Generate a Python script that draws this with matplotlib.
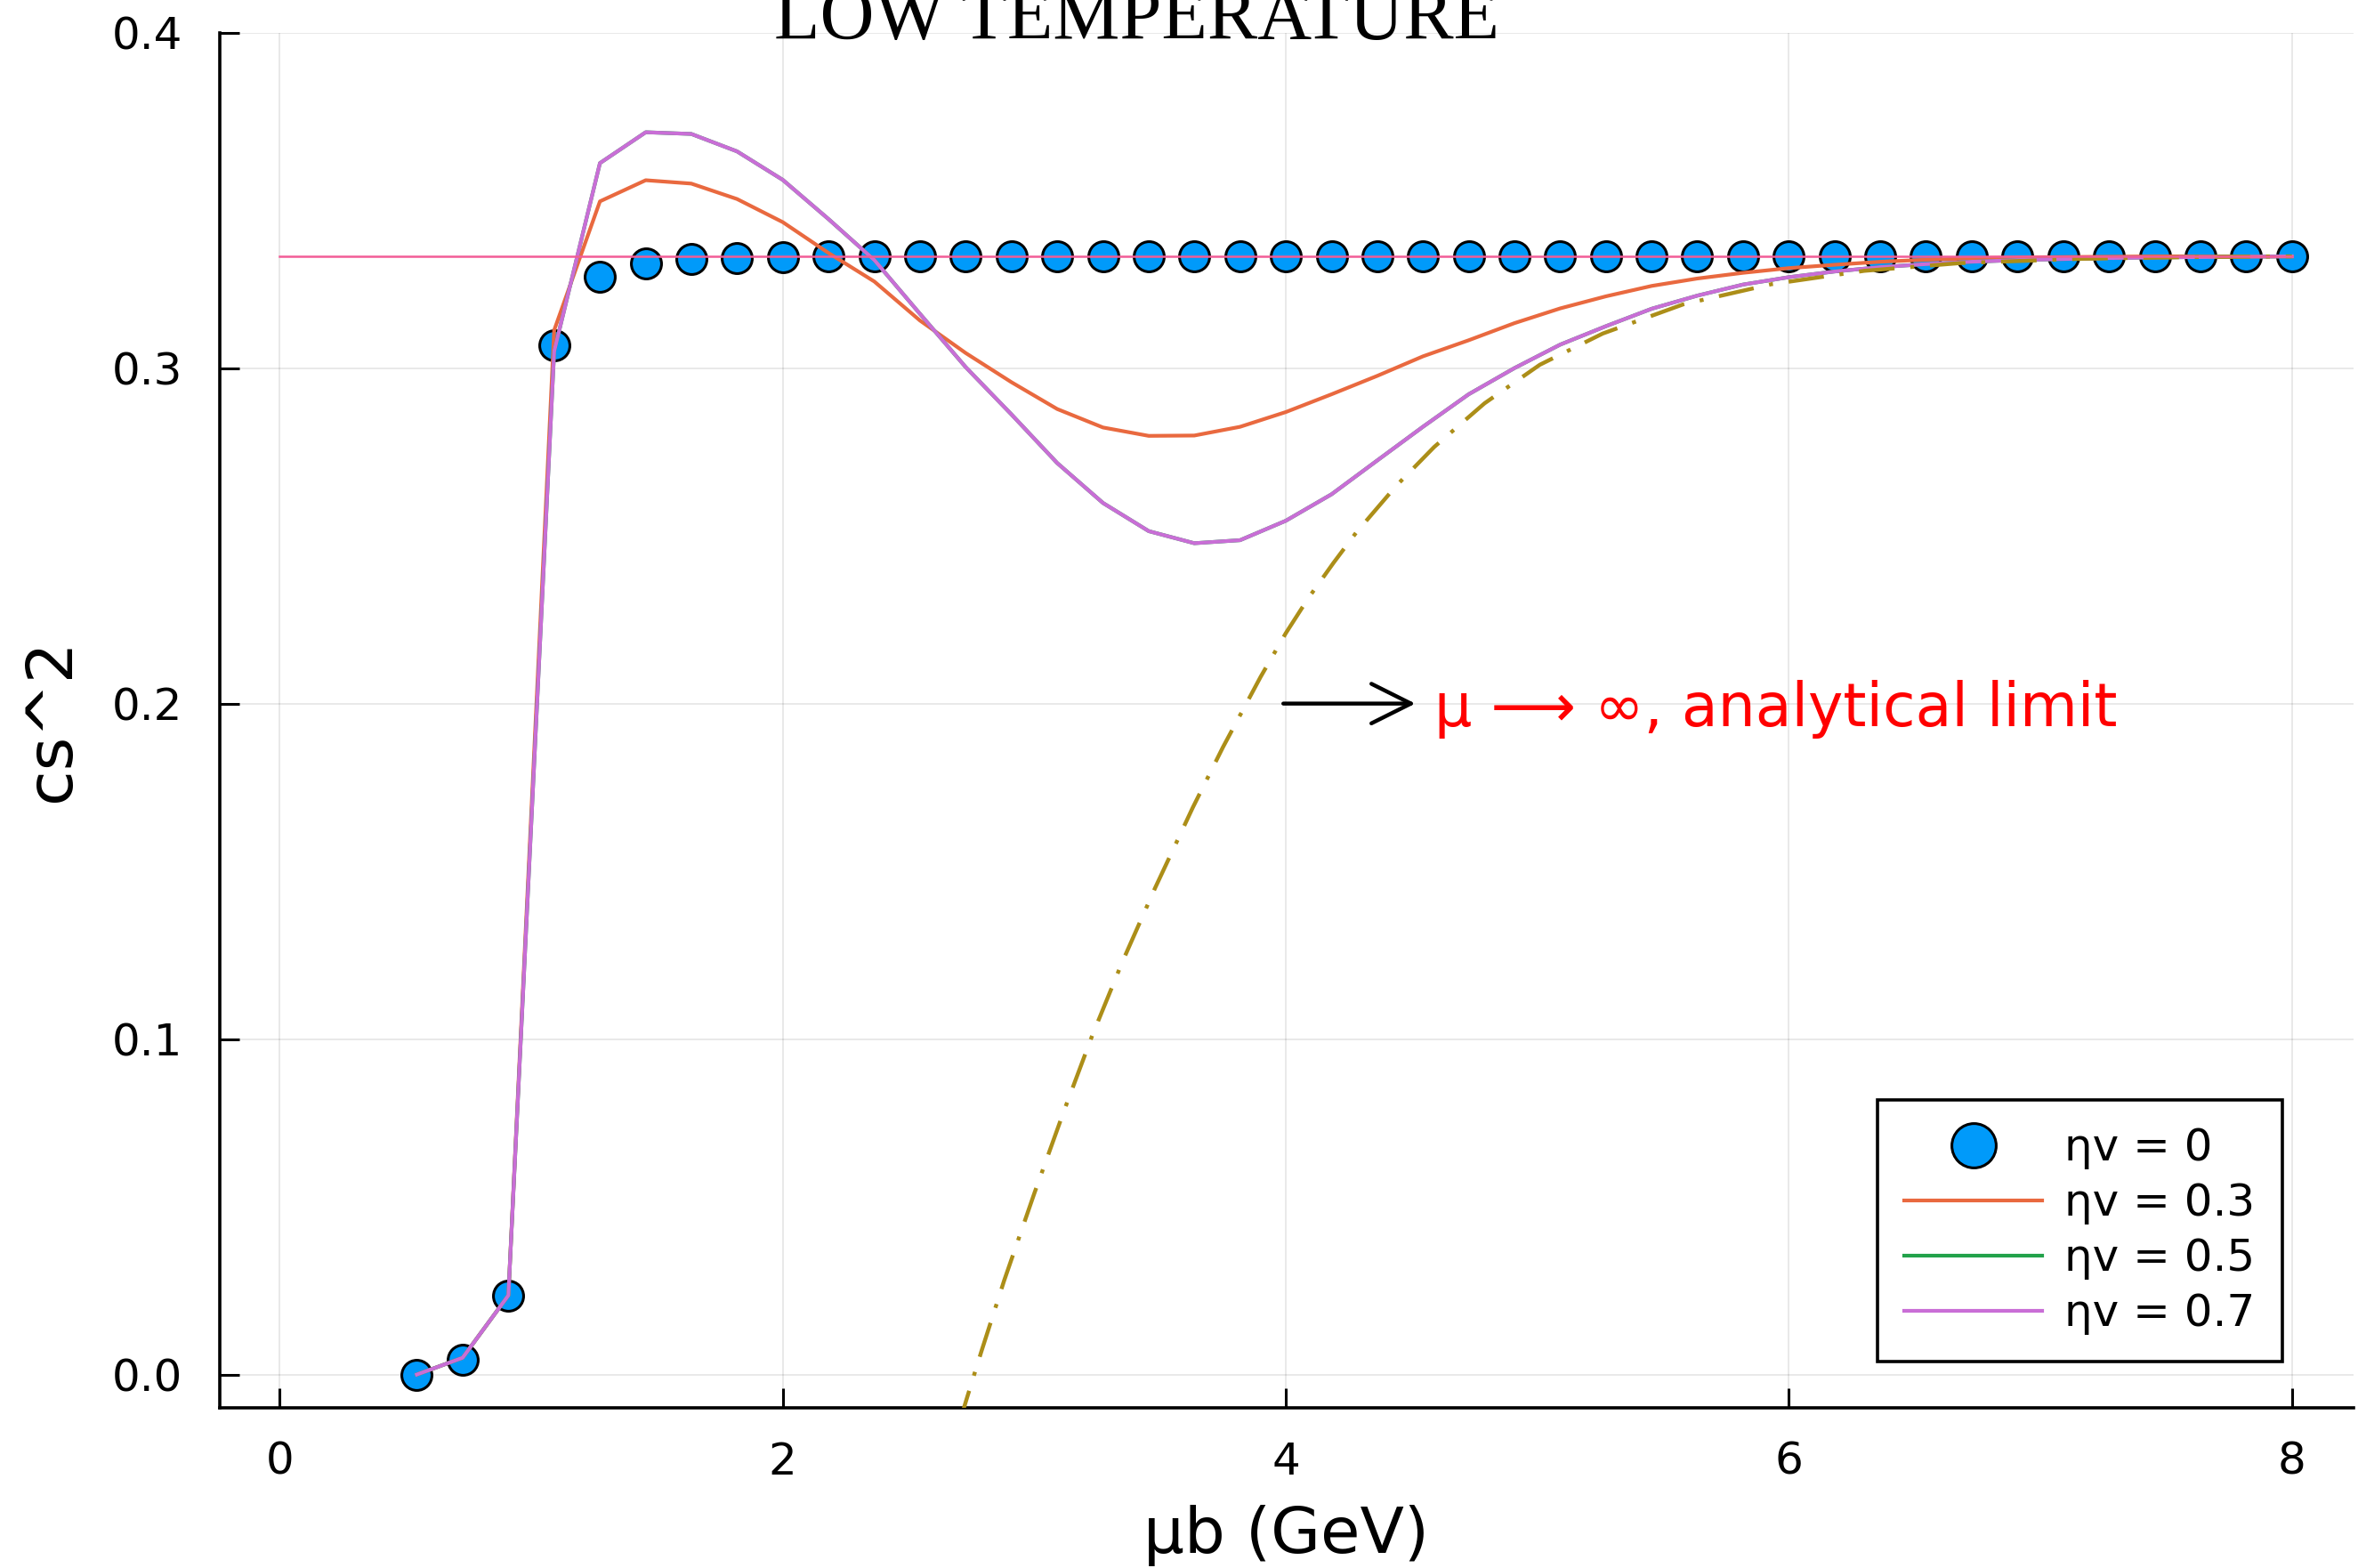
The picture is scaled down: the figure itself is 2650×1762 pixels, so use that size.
import matplotlib
matplotlib.use("Agg")
import matplotlib.pyplot as plt

# baryon chemical potential grid (GeV)
mu = [0.545, 0.727, 0.909, 1.091, 1.273, 1.455, 1.636, 1.818, 2.0, 2.182,
      2.364, 2.545, 2.727, 2.909, 3.091, 3.273, 3.455, 3.636, 3.818, 4.0,
      4.182, 4.364, 4.545, 4.727, 4.909, 5.091, 5.273, 5.455, 5.636, 5.818,
      6.0, 6.182, 6.364, 6.545, 6.727, 6.909, 7.091, 7.273, 7.455, 7.636,
      7.818, 8.0]

# speed of sound squared for each viscosity value
cs2_eta0 = [0.0, 0.0045, 0.0236, 0.3067, 0.3273, 0.3313, 0.3324, 0.3329, 0.3331, 0.3333,
            0.3333, 0.3333, 0.3333, 0.3333, 0.3333, 0.3333, 0.3333, 0.3333, 0.3333, 0.3333,
            0.3333, 0.3333, 0.3333, 0.3333, 0.3333, 0.3333, 0.3333, 0.3333, 0.3333, 0.3333,
            0.3333, 0.3333, 0.3333, 0.3333, 0.3333, 0.3333, 0.3333, 0.3333, 0.3333, 0.3333,
            0.3333, 0.3333]
cs2_eta03 = [0.0, 0.005, 0.0236, 0.3113, 0.3497, 0.3560, 0.3550, 0.3504, 0.3435, 0.3343,
             0.3258, 0.3142, 0.3045, 0.2958, 0.2878, 0.2823, 0.2798, 0.2799, 0.2825, 0.2869,
             0.2922, 0.2977, 0.3035, 0.3083, 0.3134, 0.3178, 0.3214, 0.3245, 0.3267, 0.3284,
             0.3298, 0.3308, 0.3317, 0.3323, 0.3327, 0.3330, 0.3331, 0.3332, 0.3333, 0.3333,
             0.3333, 0.3333]
cs2_eta07 = [0.0, 0.005, 0.0236, 0.305, 0.3611, 0.3703, 0.3698, 0.3646, 0.3561, 0.3444,
             0.3322, 0.3162, 0.3003, 0.2862, 0.2717, 0.2598, 0.2514, 0.2478, 0.2487, 0.2545,
             0.2624, 0.2725, 0.2825, 0.2922, 0.3000, 0.3070, 0.3125, 0.3177, 0.3216, 0.3249,
             0.3271, 0.3288, 0.3301, 0.3310, 0.3317, 0.3322, 0.3325, 0.3328, 0.3330, 0.3331,
             0.3332, 0.3333]
# the 0.5 curve sits exactly under the 0.7 one in the original
cs2_eta05 = list(cs2_eta07)

# mu -> infinity analytical limit
mu_lim = [2.70, 2.73, 2.79, 2.88, 3.00, 3.12, 3.23, 3.35, 3.48, 3.63, 3.75, 3.90, 4.00,
          4.09, 4.19, 4.28, 4.44, 4.59, 4.79, 5.01, 5.26, 5.58, 5.93, 6.30, 6.68, 7.17,
          7.60, 8.00]
cs2_lim = [-0.015, -0.0075, 0.0070, 0.0280, 0.0540, 0.0790, 0.1010, 0.1230, 0.1450,
           0.1690, 0.1870, 0.2080, 0.2210, 0.2315, 0.2420, 0.2510, 0.2650, 0.2765, 0.2895,
           0.3010, 0.3103, 0.3190, 0.3250, 0.3290, 0.3313, 0.3326, 0.3331, 0.3333]

# conformal value 1/3
conf_x = [0, 8]
conf_y = [0.33333, 0.33333]

labels = ["ηv = 0", "ηv = 0.3", "ηv = 0.5", "ηv = 0.7"]

fig = plt.figure(figsize=(13.25, 8.81), dpi=200)
ax = fig.add_axes([0.0931, 0.1022, 0.9050, 0.8770])

ax.plot(mu, cs2_eta0, "o", ms=12.2, mfc="#009AFA", mec="black", mew=1.1,
        label=labels[0], zorder=3)
ax.plot(mu, cs2_eta03, color="#E9693F", lw=1.5, label=labels[1], zorder=4)
ax.plot(mu, cs2_eta05, color="#22A24A", lw=1.5, label=labels[2], zorder=4)
ax.plot(mu, cs2_eta07, color="#C96ED6", lw=1.5, label=labels[3], zorder=4)
ax.plot(mu_lim, cs2_lim, color="#AC8E18", lw=1.6, dashes=(9, 4, 1, 4), zorder=5)
ax.plot(conf_x, conf_y, color="#F25C96", lw=0.9, zorder=6)

ax.set_xlim(-0.2395, 8.245)
ax.set_ylim(-0.0099, 0.4)
ax.set_xticks([0, 2, 4, 6, 8])
ax.set_yticks([0.0, 0.1, 0.2, 0.3, 0.4])
ax.tick_params(direction="in", length=7.9, width=1.1, labelsize=18)
ax.tick_params(axis="x", pad=13.3)
ax.tick_params(axis="y", pad=15)
ax.grid(True, color="black", alpha=0.1, lw=0.6)
ax.set_axisbelow(True)
for side in ("top", "right"):
    ax.spines[side].set_visible(False)
for side in ("left", "bottom"):
    ax.spines[side].set_linewidth(1.3)

ax.set_xlabel("μb (GeV)", fontsize=26)
ax.xaxis.set_label_coords(0.5, -0.1055)
ax.xaxis.label.set_va("baseline")
ax.set_ylabel("cs^2", fontsize=26)
ax.yaxis.set_label_coords(-0.064, 0.5)

ax.annotate("", xy=(4.515, 0.2), xytext=(3.99, 0.2),
            arrowprops=dict(arrowstyle="->,head_length=0.8,head_width=0.4",
                            lw=1.6, color="black", shrinkA=0, shrinkB=0,
                            mutation_scale=20))
ax.text(4.59, 0.1932, "μ ⟶ ∞, analytical limit", color="red", fontsize=24,
        ha="left", va="baseline")

fig.text(0.482, 1 - 44 / 1762, "LOW TEMPERATURE", family="Liberation Serif",
         fontsize=30.4, ha="center", va="baseline")

leg = ax.legend(loc="lower right", bbox_to_anchor=(0.9665, 0.0335), fontsize=18,
                fancybox=False, edgecolor="black", framealpha=1, borderpad=0.6,
                handlelength=3.1, handletextpad=0.5, labelspacing=0.28,
                markerscale=1.47, borderaxespad=0)
leg.get_frame().set_linewidth(1.3)

fig.savefig("out.png", dpi=200)
